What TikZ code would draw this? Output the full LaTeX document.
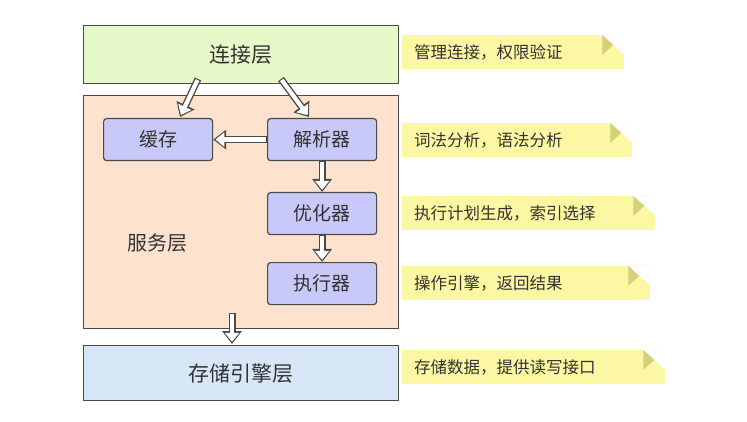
\documentclass[tikz,border=0pt]{standalone}
\usepackage{fontspec}
\setmainfont{Noto Sans CJK SC}
\usetikzlibrary{arrows.meta}
\definecolor{green1}{HTML}{E6F9C9}
\definecolor{peach}{HTML}{FDE3CE}
\definecolor{blue1}{HTML}{D7E7F7}
\definecolor{lav}{HTML}{C9C9F9}
\definecolor{note}{HTML}{FBF7A2}
\definecolor{fold}{HTML}{D6D07A}
\definecolor{edge}{HTML}{4A4A4A}
\tikzset{
  layer/.style={draw=edge,line width=1.2pt,anchor=north west,inner sep=0pt},
  part/.style={draw=edge,line width=1.2pt,fill=lav,rounded corners=3pt,minimum width=109pt,minimum height=42pt,anchor=north west,font=\fontsize{19}{19}\selectfont,text=black!80},
  notebox/.style={fill=note,anchor=west,minimum height=34pt,inner sep=0pt,text=black!80,font=\fontsize{16.5}{16.5}\selectfont},
}
\newcommand{\hollow}[2]{%
  \draw[line width=7pt,edge,-{Triangle[length=13pt,width=19pt]}] (#1) -- (#2);
  \draw[line width=4.2pt,white,shorten >=2.2pt,shorten <=1.2pt,-{Triangle[length=9pt,width=14pt]}] (#1) -- (#2);}
\newcommand{\memo}[4]{%
  \node[notebox,minimum width=#3] (#1) at (402,#2) {};
  \node[notebox] at (414,#2) {#4};
  \fill[fold] (#1.north east) -- ++(-22,0) -- ++(0,20) -- cycle;
  \fill[white] (#1.north east) -- ++(-22,0) -- ++(22,20) -- cycle;}
\begin{document}
\begin{tikzpicture}[x=1pt,y=-1pt]
\useasboundingbox (0,0) rectangle (747,422);
% layers
\node[layer,fill=green1,minimum width=315pt,minimum height=58pt] (conn) at (83,25) {};
\node[font=\fontsize{21}{21}\selectfont,text=black!80] at (conn.center) {连接层};
\node[layer,fill=peach,minimum width=315pt,minimum height=233pt] (serv) at (83,95) {};
\node[font=\fontsize{20}{20}\selectfont,text=black!80] (servt) at (157,243) {服务层};
\node[layer,fill=blue1,minimum width=315pt,minimum height=55pt] (store) at (83,345) {};
\node[font=\fontsize{21}{21}\selectfont,text=black!80] at (store.center) {存储引擎层};
% parts
\node[part] (cache) at (103,118) {缓存};
\node[part] (parser) at (267,118) {解析器};
\node[part] (opt) at (267,192) {优化器};
\node[part] (exec) at (267,262) {执行器};
% arrows
\coordinate (a1) at (198,79);
\coordinate (b1) at (180,117);
\coordinate (a2) at (281,79);
\coordinate (b2) at (309,117);
\coordinate (a3) at (232,313);
\coordinate (b3) at (232,344);
\hollow{a1}{b1}
\hollow{a2}{b2}
\hollow{parser.west}{cache.east}
\hollow{parser.south}{opt.north}
\hollow{opt.south}{exec.north}
\hollow{a3}{b3}
% notes
\memo{n1}{52}{222pt}{管理连接，权限验证}
\memo{n2}{140}{230pt}{词法分析，语法分析}
\memo{n3}{213}{253pt}{执行计划生成，索引选择}
\memo{n4}{283}{248pt}{操作引擎，返回结果}
\memo{n5}{367}{263pt}{存储数据，提供读写接口}
\end{tikzpicture}
\end{document}
